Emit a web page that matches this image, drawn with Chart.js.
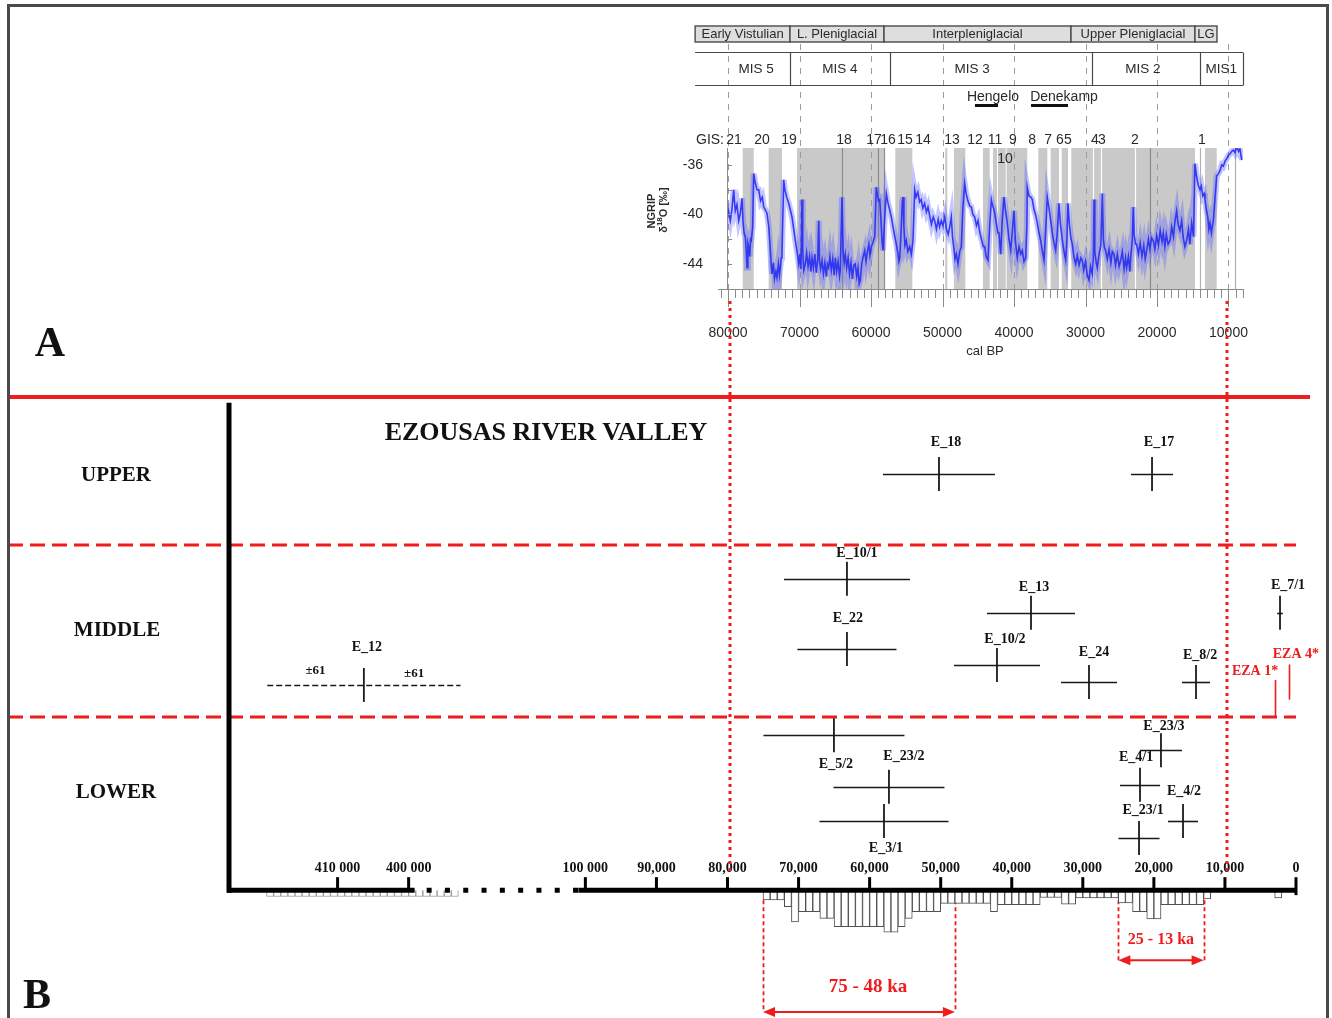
<!DOCTYPE html>
<html>
<head>
<meta charset="utf-8">
<title>NGRIP record and Ezousas river valley dates</title>
<script src="https://cdn.jsdelivr.net/npm/chart.js@4.4.1/dist/chart.umd.min.js"></script>
<style>
  html, body { margin: 0; padding: 0; background: #fff; }
  #wrap { position: relative; width: 1332px; height: 1018px; overflow: hidden; }
  #wrap canvas { position: absolute; left: 0; top: 0; }
  .lbl { position: absolute; white-space: nowrap; transform: translate(-50%, -50%);
         font-family: "Liberation Serif", "Times New Roman", serif; font-weight: bold; color: #111; line-height: 1; }
</style>
</head>
<body>
<div id="wrap">
  <canvas id="chartB" width="1332" height="1018"></canvas>
  <canvas id="chartA" width="1332" height="1018"></canvas>
  <div class="lbl" style="left:50px;top:342px;font-size:42px">A</div>
  <div class="lbl" style="left:37px;top:994px;font-size:42px">B</div>
  <div class="lbl" style="left:546px;top:432px;font-size:26px">EZOUSAS RIVER VALLEY</div>
  <div class="lbl" style="left:116px;top:474px;font-size:21px">UPPER</div>
  <div class="lbl" style="left:117px;top:629px;font-size:21px">MIDDLE</div>
  <div class="lbl" style="left:116px;top:791px;font-size:21px">LOWER</div>
</div>
<script>
(function () {
  'use strict';

  var RED = '#ee1c1c';
  var SANS = '"Liberation Sans", Arial, sans-serif';
  var SERIF = '"Liberation Serif", "Times New Roman", serif';

  // ---------- Panel A: NGRIP d18O (age cal BP, per mil) ----------
  var ngripSeries = [
    [80140, -39.1], [79900, -39.8], [79680, -40.5], [79450, -39.6], [79200, -38.0],
    [79100, -38.9], [78980, -39.7], [78750, -39.2], [78500, -40.5], [78300, -40.0],
    [78040, -38.7], [77900, -40.6], [77750, -41.5], [77580, -41.8], [77450, -42.9],
    [77340, -44.3], [77220, -42.3], [77100, -42.6], [76950, -43.4], [76850, -42.0],
    [76740, -42.1], [76550, -41.0], [76400, -36.7], [76200, -37.4], [75950, -38.0],
    [75700, -38.0], [75450, -38.9], [75200, -38.6], [75000, -39.4], [74800, -39.6],
    [74550, -39.9], [74300, -41.0], [74080, -42.9], [73950, -44.1], [73850, -44.8],
    [73650, -43.9], [73500, -45.2], [73300, -44.6], [73150, -45.1], [72950, -44.0],
    [72800, -44.9], [72690, -44.3], [72550, -43.5], [72450, -43.2], [72210, -37.2],
    [72050, -38.0], [71800, -38.6], [71510, -39.1], [71300, -39.6], [71050, -40.2],
    [70850, -41.0], [70590, -42.1], [70350, -43.0], [70110, -44.0], [69950, -43.2],
    [69800, -44.4], [69650, -38.8], [69550, -43.0], [69400, -44.5], [69190, -44.0],
    [69000, -43.1], [68800, -44.2], [68600, -43.4], [68400, -44.6], [68250, -43.5],
    [68050, -44.3], [67850, -43.2], [67650, -44.7], [67450, -43.6], [67310, -40.5],
    [67200, -43.8], [67050, -44.4], [66850, -43.7], [66650, -44.8], [66450, -43.9],
    [66250, -45.0], [66100, -44.0], [65920, -44.3], [65750, -43.4], [65550, -44.5],
    [65350, -43.6], [65150, -44.9], [64990, -43.5], [64800, -44.6], [64600, -43.8],
    [64400, -45.0], [64290, -44.5], [64060, -38.6], [63900, -43.0], [63750, -43.9],
    [63590, -43.2], [63400, -44.3], [63200, -43.5], [63000, -44.8], [62800, -43.9],
    [62600, -45.2], [62400, -44.1], [62200, -44.0], [62000, -45.0], [61820, -44.3],
    [61650, -45.6], [61500, -45.3], [61300, -44.0], [61100, -43.4], [60880, -42.9],
    [60700, -43.8], [60500, -43.0], [60300, -42.4], [60150, -43.3], [59960, -42.6],
    [59700, -42.2], [59480, -41.8], [59260, -37.8], [59100, -38.4], [58950, -38.9],
    [58780, -38.8], [58600, -40.5], [58450, -42.2], [58320, -42.9], [58100, -40.4],
    [57860, -38.3], [57650, -39.0], [57400, -39.6], [57160, -40.2], [56950, -40.9],
    [56700, -41.7], [56460, -42.4], [56250, -43.1], [56100, -43.8], [55980, -43.5],
    [55800, -41.5], [55620, -39.0], [55520, -38.6], [55400, -41.0], [55250, -42.5],
    [55060, -42.1], [54850, -43.0], [54590, -42.6], [54350, -43.2], [54130, -42.1],
    [53890, -38.0], [53700, -38.6], [53450, -38.2], [53200, -39.0], [52970, -38.8],
    [52750, -39.5], [52500, -39.1], [52250, -39.8], [52030, -39.4], [51800, -40.1],
    [51550, -40.8], [51300, -40.2], [51100, -40.5], [50850, -41.2], [50600, -40.4],
    [50400, -41.0], [50170, -40.5], [49950, -40.9], [49690, -40.2], [49450, -41.2],
    [49200, -41.6], [48990, -41.0], [48770, -40.2], [48600, -41.8], [48400, -42.8],
    [48250, -43.6], [48070, -43.2], [47830, -44.0], [47600, -43.0], [47370, -42.6],
    [47150, -39.5], [46900, -37.5], [46700, -38.3], [46450, -38.9], [46200, -39.3],
    [45970, -39.4], [45750, -40.0], [45500, -40.2], [45250, -40.9], [45030, -40.5],
    [44800, -41.4], [44550, -42.0], [44300, -42.6], [44100, -42.6], [43900, -43.4],
    [43640, -43.7], [43400, -41.0], [43170, -38.8], [43000, -39.3], [42850, -39.5],
    [42700, -39.9], [42450, -40.8], [42250, -41.5], [42100, -41.5], [41950, -42.6],
    [41860, -43.2], [41650, -40.5], [41400, -38.6], [41200, -39.6], [40940, -40.7],
    [40700, -42.0], [40460, -42.9], [40250, -41.5], [40000, -39.7], [39800, -42.2],
    [39540, -43.5], [39300, -42.6], [39050, -43.2], [38840, -42.9], [38600, -43.8],
    [38360, -43.5], [38200, -41.0], [38140, -37.8], [37900, -38.5], [37650, -38.6],
    [37440, -38.8], [37200, -39.6], [36950, -40.1], [36740, -40.7], [36500, -41.5],
    [36270, -42.1], [36050, -42.9], [35800, -43.7], [35550, -41.0], [35340, -38.6],
    [35100, -39.5], [34850, -40.6], [34640, -41.5], [34400, -42.3], [34170, -42.9],
    [33950, -41.5], [33710, -39.1], [33500, -40.8], [33240, -42.1], [33000, -43.0],
    [32770, -43.7], [32600, -42.0], [32450, -39.1], [32250, -40.8], [32050, -41.9],
    [31850, -42.4], [31600, -43.5], [31370, -44.0], [31150, -43.3], [30900, -44.1],
    [30650, -43.5], [30450, -43.7], [30250, -44.5], [30000, -43.8], [29750, -44.9],
    [29510, -45.3], [29300, -44.2], [29050, -44.8], [28900, -43.5], [28810, -38.8],
    [28700, -43.0], [28500, -43.9], [28350, -44.3], [28100, -43.2], [27850, -42.5],
    [27650, -38.3], [27500, -42.0], [27350, -42.7], [27180, -42.9], [26950, -43.6],
    [26700, -42.8], [26450, -43.9], [26250, -43.0], [26010, -43.2], [25800, -44.1],
    [25550, -43.2], [25300, -44.2], [25080, -43.7], [24850, -43.0], [24600, -44.4],
    [24400, -43.5], [24240, -44.3], [24000, -43.4], [23800, -44.6], [23680, -43.5],
    [23450, -42.0], [23320, -39.4], [23200, -41.6], [23000, -42.4], [22840, -42.4],
    [22600, -43.2], [22350, -42.3], [22100, -43.4], [21850, -42.5], [21650, -43.6],
    [21440, -42.9], [21200, -42.0], [21000, -42.8], [20750, -41.9], [20520, -42.1],
    [20300, -42.8], [20050, -41.7], [19800, -42.5], [19550, -41.3], [19300, -42.2],
    [19120, -41.5], [18900, -42.6], [18700, -41.6], [18450, -42.4], [18180, -42.1],
    [17950, -41.0], [17700, -41.8], [17500, -40.6], [17250, -39.7], [17050, -40.8],
    [16800, -41.3], [16550, -40.5], [16350, -41.8], [16100, -42.6], [15850, -42.1],
    [15600, -41.2], [15400, -42.4], [15150, -40.7], [14900, -41.8], [14690, -35.9],
    [14500, -36.8], [14250, -37.6], [13990, -38.0], [13800, -37.7], [13600, -38.5],
    [13400, -38.3], [13290, -38.8], [13100, -39.6], [12900, -40.2], [12750, -41.2],
    [12590, -40.7], [12400, -41.5], [12250, -40.9], [12120, -40.5], [11900, -38.8],
    [11650, -36.9], [11400, -36.7], [11150, -36.4], [10950, -36.0], [10720, -36.1],
    [10500, -35.7], [10250, -35.5], [10000, -35.2], [9780, -35.1], [9550, -34.9],
    [9300, -34.8], [9100, -35.0], [8850, -34.5], [8600, -34.9], [8400, -34.7],
    [8150, -35.6]
  ];

  // grey GIS blocks (older edge, younger edge)
  var gisBandFrom = [77940, 74310, 70350, 56600, 49610, 48400, 44340, 42940, 42240, 41030, 36600, 34870, 33330, 31990, 13290];
  var gisBandTo   = [76400, 72450, 58080, 54220, 49330, 46810, 43400, 42380, 41160, 38140, 35340, 33710, 32450, 14690, 11650];
  var bandDarkLines = [64060, 59020, 58180, 21020];
  var bandWhiteLines = [28900, 27880, 23080];
  var thinGreyLines = [13990, 9100];

  var gisLabels   = ['21', '20', '19', '18', '17', '16', '15', '14', '13', '12', '11', '10', '9', '8', '7', '6', '5', '4', '3', '2', '1'];
  var gisLabelAge = [79160, 75240, 71470, 63780, 59580, 57620, 55240, 52730, 48670, 45460, 42660, 41260, 40140, 37480, 35240, 33570, 32450, 28670, 27690, 23080, 13710];

  var stageNames = ['Early Vistulian', 'L. Pleniglacial', 'Interpleniglacial', 'Upper Pleniglacial', 'LG'];
  var stageFrom  = [84600, 71330, 58180, 32030, 14690];
  var stageTo    = [71330, 58180, 32030, 14690, 11610];

  var misNames    = ['MIS 5', 'MIS 4', 'MIS 3', 'MIS 2', 'MIS1'];
  var misFrom     = [84600, 71330, 57340, 29090, 13990];
  var misTo       = [71330, 57340, 29090, 13990, 7972];
  var misLabelAge = [76080, 64340, 45870, 21960, 11000];

  var interstadialNames   = ['Hengelo', 'Denekamp'];
  var interstadialFrom    = [45460, 37620];
  var interstadialTo      = [42240, 32450];
  var interstadialTextAge = [42940, 33010];

  var axisATicks  = [80000, 70000, 60000, 50000, 40000, 30000, 20000, 10000];
  var axisAYTicks = [-36, -40, -44];
  var linkAges    = [80000, 10000];

  // ---------- Panel B: luminescence dates ----------
  var sampleNames = ['E_18', 'E_17', 'E_10/1', 'E_13', 'E_22', 'E_10/2', 'E_24', 'E_8/2', 'E_7/1', 'E_12',
                     'E_5/2', 'E_23/2', 'E_3/1', 'E_23/3', 'E_4/1', 'E_4/2', 'E_23/1'];
  var sampleAge   = [50240, 20260, 63190, 37290, 63190, 42080, 29130, 14070, 2250, 406300,
                     65020, 57280, 57980, 19000, 21950, 15900, 22090];
  var sampleErr   = [7880, 2955, 8870, 6190, 6970, 6050, 3940, 1970, 400, 13600,
                     9920, 7810, 9080, 2955, 2815, 2110, 2885];
  var sampleLevel = [85.4, 85.4, 63.9, 56.9, 49.5, 46.2, 42.7, 42.7, 56.9, 42.1,
                     31.8, 21.2, 14.2, 28.7, 21.6, 14.2, 10.7];
  var labelDx = [7, 7, 10, 3, 1, 8, 5, 4, 8, 3, 2, 15, 2, 3, -4, 1, 4];
  var labelDy = [-32, -32, -25, -25, -30, -26, -30, -27, -27, -38, 29, -30, 27, -24, -27, -30, -28];

  var histBinAge = [74500, 73500, 72500, 71500, 70500, 69500, 68500, 67500, 66500, 65500,
                    64500, 63500, 62500, 61500, 60500, 59500, 58500, 57500, 56500, 55500,
                    54500, 53500, 52500, 51500, 50500, 49500, 48500, 47500, 46500, 45500,
                    44500, 43500, 42500, 41500, 40500, 39500, 38500, 37500, 36500, 35500,
                    34500, 33500, 32500, 31500, 30500, 29500, 28500, 27500, 26500, 25500,
                    24500, 23500, 22500, 21500, 20500, 19500, 18500, 17500, 16500, 15500,
                    14500, 13500, 12500, 2500];
  var histFreq   = [2.0, 2.0, 2.0, 3.4, 6.5, 4.4, 4.4, 4.4, 5.8, 5.8,
                    7.5, 7.5, 7.5, 7.5, 7.5, 7.5, 7.5, 8.6, 8.6, 7.5,
                    5.8, 4.4, 4.4, 4.4, 4.4, 2.7, 2.7, 2.7, 2.7, 2.7,
                    2.7, 2.7, 4.4, 3.0, 3.0, 3.0, 3.0, 3.0, 3.0, 1.5,
                    1.5, 1.5, 2.9, 2.9, 1.6, 1.6, 1.6, 1.6, 1.6, 1.6,
                    2.6, 2.6, 4.4, 4.4, 5.9, 5.9, 3.0, 3.0, 3.0, 3.0,
                    3.0, 3.0, 1.8, 1.6];
  var histOldAge  = [393500, 394500, 395500, 396500, 397500, 398500, 399500, 400500, 401500,
                     402500, 403500, 404500, 405500, 406500, 407500, 408500, 409500, 410500,
                     411500, 412500, 413500, 414500, 415500, 416500, 417500, 418500, 419500];
  var histOldFreq = [1.3, 1.3, 1.3, 1.3, 1.3, 1.3, 1.3, 1.3, 1.3,
                     1.3, 1.3, 1.3, 1.3, 1.3, 1.3, 1.3, 1.3, 1.3,
                     1.3, 1.3, 1.3, 1.3, 1.3, 1.3, 1.3, 1.3, 1.3];

  var axisBTicks  = [410000, 400000, 100000, 90000, 80000, 70000, 60000, 50000, 40000, 30000, 20000, 10000, 0];
  var axisBLabels = ['410 000', '400 000', '100 000', '90,000', '80,000', '70,000', '60,000', '50,000',
                     '40,000', '30,000', '20,000', '10,000', '0'];

  var unitTopLevel = 101.2;            // solid red rule above the sections
  var unitBounds   = [70.8, 35.5];     // upper/middle, middle/lower

  var rangeFrom  = [75000, 25000];
  var rangeTo    = [48000, 13000];
  var rangeNames = ['75 - 48 ka', '25 - 13 ka'];
  var rangeArrowLevel = [-25, -14.4];
  var rangeTextLevel  = [-19.9, -10.2];
  var rangeFontSize   = [19, 16];

  var ezaNames  = ['EZA 4*', 'EZA 1*'];
  var ezaAge    = [1000, 2950];
  var ezaTop    = [46.3, 43.1];
  var ezaBottom = [39.1, 35.5];
  var ezaTextDx = [7, -20];
  var ezaTextLevel = [48.3, 44.8];

  // broken axis: ages above 400 ka are moved next to the 100 ka end
  var BREAK_P = 124870;
  function toP(age) { return age > 200000 ? age - 400000 + BREAK_P : age; }

  function seg(ctx, x1, y1, x2, y2) {
    ctx.beginPath(); ctx.moveTo(x1, y1); ctx.lineTo(x2, y2); ctx.stroke();
  }

  // ---------- Panel A decorations ----------
  var ngripDecor = {
    id: 'ngripDecor',
    beforeDatasetsDraw: function (chart) {
      var ctx = chart.ctx, xs = chart.scales.x, ca = chart.chartArea;
      var X = function (a) { return xs.getPixelForValue(a); };
      ctx.save();
      ctx.fillStyle = '#c9c9c9';
      for (var i = 0; i < gisBandFrom.length; i++) {
        var x1 = X(gisBandFrom[i]), x2 = X(gisBandTo[i]);
        ctx.fillRect(x1, ca.top, x2 - x1, ca.bottom - ca.top);
      }
      ctx.lineWidth = 1.2;
      ctx.strokeStyle = '#8c8c8c';
      bandDarkLines.forEach(function (a) { var x = Math.round(X(a)) + 0.5; seg(ctx, x, ca.top, x, ca.bottom); });
      ctx.strokeStyle = '#ffffff';
      bandWhiteLines.forEach(function (a) { var x = Math.round(X(a)) + 0.5; seg(ctx, x, ca.top, x, ca.bottom); });
      ctx.strokeStyle = '#b0b0b0';
      thinGreyLines.forEach(function (a) { var x = Math.round(X(a)) + 0.5; seg(ctx, x, ca.top, x, ca.bottom); });
      // dashed 10 ka guides running up through the header
      ctx.strokeStyle = '#9c9c9c';
      ctx.lineWidth = 1;
      ctx.setLineDash([6, 6]);
      axisATicks.forEach(function (a) { var x = Math.round(X(a)) + 0.5; seg(ctx, x, 44, x, ca.bottom); });
      ctx.restore();
    },
    afterDatasetsDraw: function (chart) {
      var ctx = chart.ctx, xs = chart.scales.x, ys = chart.scales.y, ca = chart.chartArea;
      var X = function (a) { return xs.getPixelForValue(a); };
      var i, x;
      ctx.save();

      // axes
      ctx.strokeStyle = '#8a8a8a';
      ctx.lineWidth = 1;
      seg(ctx, ca.left - 9, ca.bottom + 0.5, ca.right, ca.bottom + 0.5);
      seg(ctx, ca.left + 0.5, ca.top, ca.left + 0.5, ca.bottom);
      for (var a = 81000; a >= 8000; a -= 1000) {
        x = Math.round(X(a)) + 0.5;
        seg(ctx, x, ca.bottom, x, ca.bottom + (a % 10000 === 0 ? 18 : 9));
      }
      for (var v = -36; v >= -44; v -= 2) {
        var yv = Math.round(ys.getPixelForValue(v)) + 0.5;
        seg(ctx, ca.left, yv, ca.left + 5, yv);
      }
      ctx.fillStyle = '#2a2a2a';
      ctx.font = '14px ' + SANS;
      ctx.textAlign = 'center';
      ctx.textBaseline = 'middle';
      axisATicks.forEach(function (t) { ctx.fillText(String(t), X(t), 333); });
      ctx.font = '13px ' + SANS;
      ctx.fillText('cal BP', (ca.left + ca.right) / 2, 351);
      ctx.font = '14px ' + SANS;
      ctx.textAlign = 'right';
      axisAYTicks.forEach(function (t) { ctx.fillText(String(t), 703, ys.getPixelForValue(t)); });

      // rotated y title
      ctx.save();
      ctx.translate(652, 211);
      ctx.rotate(-Math.PI / 2);
      ctx.textAlign = 'center';
      ctx.font = 'bold 11px ' + SANS;
      ctx.fillText('NGRIP', 0, 0);
      ctx.restore();
      ctx.save();
      ctx.translate(664, 210);
      ctx.rotate(-Math.PI / 2);
      ctx.textAlign = 'left';
      ctx.font = 'bold 11px ' + SANS;
      var w1 = ctx.measureText('\u03b4').width;
      ctx.font = 'bold 8px ' + SANS;
      var w2 = ctx.measureText('18').width;
      ctx.font = 'bold 11px ' + SANS;
      var w3 = ctx.measureText('O [\u2030]').width;
      var sx = -(w1 + w2 + w3) / 2;
      ctx.fillText('\u03b4', sx, 0);
      ctx.font = 'bold 8px ' + SANS;
      ctx.fillText('18', sx + w1, -4);
      ctx.font = 'bold 11px ' + SANS;
      ctx.fillText('O [\u2030]', sx + w1 + w2, 0);
      ctx.restore();

      // header row 1: climatostratigraphy
      ctx.font = '13px ' + SANS;
      ctx.textAlign = 'center';
      for (i = 0; i < stageNames.length; i++) {
        var s1 = X(stageFrom[i]), s2 = X(stageTo[i]);
        ctx.fillStyle = '#dedede';
        ctx.fillRect(s1, 26, s2 - s1, 16);
        ctx.strokeStyle = '#4a4a4a';
        ctx.lineWidth = 1.4;
        ctx.strokeRect(s1, 26, s2 - s1, 16);
        ctx.fillStyle = '#2a2a2a';
        ctx.fillText(stageNames[i], (s1 + s2) / 2, 34.5);
      }

      // header row 2: marine isotope stages
      ctx.strokeStyle = '#4a4a4a';
      ctx.lineWidth = 1.2;
      seg(ctx, X(misFrom[0]), 52.5, X(misTo[misTo.length - 1]), 52.5);
      seg(ctx, X(misFrom[0]), 85.5, X(misTo[misTo.length - 1]), 85.5);
      for (i = 0; i < misNames.length; i++) {
        x = Math.round(X(misTo[i])) + 0.5;
        seg(ctx, x, 52.5, x, 85.5);
      }
      ctx.font = '13.5px ' + SANS;
      ctx.fillStyle = '#2a2a2a';
      for (i = 0; i < misNames.length; i++) ctx.fillText(misNames[i], X(misLabelAge[i]), 69);

      // Hengelo / Denekamp
      ctx.font = '14px ' + SANS;
      ctx.lineWidth = 3;
      ctx.strokeStyle = '#111';
      for (i = 0; i < interstadialNames.length; i++) {
        seg(ctx, X(interstadialFrom[i]), 105.5, X(interstadialTo[i]), 105.5);
        ctx.fillText(interstadialNames[i], X(interstadialTextAge[i]), 97);
      }

      // GIS numbers
      ctx.font = '14px ' + SANS;
      ctx.textAlign = 'left';
      ctx.fillText('GIS:', 696, 140);
      ctx.textAlign = 'center';
      for (i = 0; i < gisLabels.length; i++) {
        ctx.fillText(gisLabels[i], X(gisLabelAge[i]), gisLabels[i] === '10' ? 159 : 140);
      }

      // red dotted links down into panel B
      ctx.strokeStyle = RED;
      ctx.lineWidth = 3;
      ctx.setLineDash([3, 4]);
      linkAges.forEach(function (a, k) { var lx = Math.round(X(a)) + (k === 0 ? 2 : -1); seg(ctx, lx, 301, lx, 874); });
      ctx.restore();
    }
  };

  new Chart(document.getElementById('chartA'), {
    type: 'line',
    data: {
      datasets: [
        {
          data: ngripSeries.map(function (p) { return { x: p[0], y: p[1] }; }),
          borderColor: 'rgba(80, 90, 255, 0.35)',
          borderWidth: 6,
          pointRadius: 0,
          tension: 0
        },
        {
          data: ngripSeries.map(function (p) { return { x: p[0], y: p[1] }; }),
          borderColor: 'rgba(20, 20, 235, 0.9)',
          borderWidth: 1.6,
          pointRadius: 0,
          tension: 0
        }
      ]
    },
    options: {
      responsive: false,
      animation: false,
      events: [],
      layout: { autoPadding: false, padding: { left: 727, right: 89, top: 148, bottom: 729 } },
      plugins: { legend: { display: false }, tooltip: { enabled: false } },
      scales: {
        x: { type: 'linear', reverse: true, min: 7972, max: 80140, offset: false, display: false },
        y: { type: 'linear', min: -46.02, max: -34.63, display: false }
      }
    },
    plugins: [ngripDecor]
  });

  // ---------- Panel B decorations ----------
  var datesDecor = {
    id: 'datesDecor',
    beforeDatasetsDraw: function (chart) {
      var ctx = chart.ctx, xs = chart.scales.x, ys = chart.scales.y;
      var X = function (a) { return xs.getPixelForValue(toP(a)); };
      var Y = function (l) { return ys.getPixelForValue(l); };
      var i;
      ctx.save();
      ctx.strokeStyle = RED;
      ctx.lineWidth = 4;
      seg(ctx, 8, Y(unitTopLevel), 1310, Y(unitTopLevel));
      ctx.lineWidth = 3;
      ctx.setLineDash([15, 7]);
      unitBounds.forEach(function (l) { seg(ctx, 8, Y(l), 1296, Y(l)); });

      // horizontal error bars
      ctx.strokeStyle = '#1a1a1a';
      ctx.lineWidth = 1.6;
      for (i = 0; i < sampleNames.length; i++) {
        ctx.setLineDash(sampleAge[i] > 200000 ? [6, 3] : []);
        var y = Math.round(Y(sampleLevel[i])) + 0.5;
        seg(ctx, X(sampleAge[i] + sampleErr[i]), y, X(sampleAge[i] - sampleErr[i]), y);
      }

      // bracket ranges
      ctx.strokeStyle = RED;
      ctx.lineWidth = 1.8;
      ctx.setLineDash([4, 3]);
      for (i = 0; i < rangeNames.length; i++) {
        [rangeFrom[i], rangeTo[i]].forEach(function (a) {
          var rx = Math.round(X(a)) + 0.5;
          seg(ctx, rx, Y(0) + 10, rx, Y(rangeArrowLevel[i]));
        });
      }

      // EZA markers
      ctx.setLineDash([]);
      ctx.lineWidth = 1.6;
      for (i = 0; i < ezaNames.length; i++) {
        var ex = Math.round(X(ezaAge[i])) + 0.5;
        seg(ctx, ex, Y(ezaTop[i]), ex, Y(ezaBottom[i]));
      }
      ctx.restore();
    },
    afterDatasetsDraw: function (chart) {
      var ctx = chart.ctx, xs = chart.scales.x, ys = chart.scales.y, ca = chart.chartArea;
      var X = function (a) { return xs.getPixelForValue(toP(a)); };
      var Y = function (l) { return ys.getPixelForValue(l); };
      var y0 = Y(0), i;
      ctx.save();

      // axes (thick black, broken between 400 ka and 100 ka)
      ctx.strokeStyle = '#000';
      ctx.lineWidth = 5;
      seg(ctx, ca.left + 2, Y(100), ca.left + 2, y0 + 2.5);
      seg(ctx, ca.left, y0, X(400000) + 6, y0);
      seg(ctx, X(100000) - 7, y0, X(0) + 1, y0);
      ctx.setLineDash([5, 13.3]);
      seg(ctx, X(400000) + 18, y0, X(100000) - 7, y0);
      ctx.setLineDash([]);
      ctx.lineWidth = 3;
      axisBTicks.forEach(function (t) { var tx = X(t); seg(ctx, tx, y0 - 13, tx, y0); });
      seg(ctx, X(0), y0, X(0), y0 + 5);
      ctx.fillStyle = '#111';
      ctx.font = 'bold 14px ' + SERIF;
      ctx.textAlign = 'center';
      ctx.textBaseline = 'middle';
      for (i = 0; i < axisBTicks.length; i++) ctx.fillText(axisBLabels[i], X(axisBTicks[i]), y0 - 22);

      // sample labels
      for (i = 0; i < sampleNames.length; i++) {
        ctx.fillText(sampleNames[i], X(sampleAge[i]) + labelDx[i], Y(sampleLevel[i]) + labelDy[i]);
      }
      // truncated error bar of E_12
      ctx.font = 'bold 13px ' + SERIF;
      for (i = 0; i < sampleNames.length; i++) {
        if (sampleAge[i] < 200000) continue;
        var yy = Y(sampleLevel[i]) - 14;
        ctx.fillText('\u00b161', (X(sampleAge[i] + sampleErr[i]) + X(sampleAge[i])) / 2, yy);
        ctx.fillText('\u00b161', (X(sampleAge[i] - sampleErr[i]) + X(sampleAge[i])) / 2 + 2, yy + 3);
      }

      // range arrows and labels
      ctx.strokeStyle = RED;
      ctx.fillStyle = RED;
      ctx.lineWidth = 2;
      for (i = 0; i < rangeNames.length; i++) {
        var ax1 = X(rangeFrom[i]), ax2 = X(rangeTo[i]), ay = Y(rangeArrowLevel[i]);
        seg(ctx, ax1 + 4, ay, ax2 - 4, ay);
        ctx.beginPath();
        ctx.moveTo(ax1, ay); ctx.lineTo(ax1 + 12, ay - 5); ctx.lineTo(ax1 + 12, ay + 5); ctx.closePath();
        ctx.moveTo(ax2, ay); ctx.lineTo(ax2 - 12, ay - 5); ctx.lineTo(ax2 - 12, ay + 5); ctx.closePath();
        ctx.fill();
        ctx.font = 'bold ' + rangeFontSize[i] + 'px ' + SERIF;
        ctx.fillText(rangeNames[i], (ax1 + ax2) / 2 + (i === 0 ? 9 : 0), Y(rangeTextLevel[i]));
      }
      ctx.font = 'bold 14px ' + SERIF;
      for (i = 0; i < ezaNames.length; i++) {
        ctx.fillText(ezaNames[i], X(ezaAge[i]) + ezaTextDx[i], Y(ezaTextLevel[i]));
      }

      // figure frame
      ctx.strokeStyle = '#4a4a4a';
      ctx.lineWidth = 3;
      ctx.beginPath();
      ctx.moveTo(8.5, 1018); ctx.lineTo(8.5, 5.5); ctx.lineTo(1327.5, 5.5); ctx.lineTo(1327.5, 1018);
      ctx.stroke();
      ctx.restore();
    }
  };

  var histData = histBinAge.map(function (a, i) { return { x: toP(a), y: -histFreq[i] }; })
    .concat(histOldAge.map(function (a, i) { return { x: toP(a), y: -histOldFreq[i] }; }));
  var sampleData = sampleAge.map(function (a, i) { return { x: toP(a), y: sampleLevel[i] }; });

  new Chart(document.getElementById('chartB'), {
    type: 'scatter',
    data: {
      datasets: [
        {
          type: 'bar',
          data: histData,
          backgroundColor: '#ffffff',
          borderColor: function (c) { return c.raw && c.raw.x > 110000 ? '#9a9a9a' : '#505050'; },
          borderWidth: 1,
          barPercentage: 1,
          categoryPercentage: 1,
          order: 2
        },
        {
          type: 'scatter',
          data: sampleData,
          pointStyle: 'line',
          pointRotation: 90,
          pointRadius: 17,
          pointHoverRadius: 17,
          pointBorderWidth: 1.8,
          pointBorderColor: '#1a1a1a',
          borderColor: '#1a1a1a',
          order: 1
        }
      ]
    },
    options: {
      responsive: false,
      animation: false,
      events: [],
      layout: { autoPadding: false, padding: { left: 227, right: 36, top: 393, bottom: 6 } },
      plugins: { legend: { display: false }, tooltip: { enabled: false } },
      scales: {
        x: { type: 'linear', reverse: true, min: 0, max: 150430, offset: false, display: false },
        y: { type: 'linear', min: -25, max: 102, display: false }
      }
    },
    plugins: [datesDecor]
  });
})();
</script>
</body>
</html>
